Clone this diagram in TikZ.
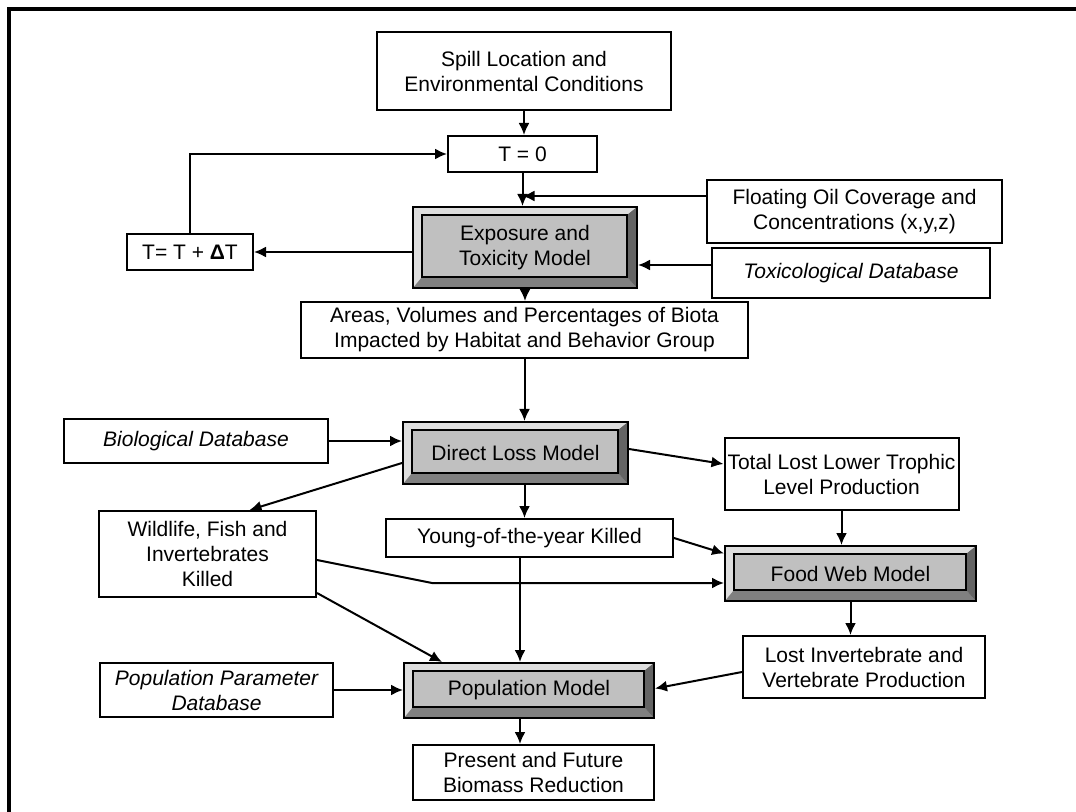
\documentclass[tikz,border=0pt]{standalone}
\usepackage{fontspec}
\setmainfont{Liberation Sans}
\usetikzlibrary{arrows.meta}
\definecolor{face}{RGB}{192,192,192}
\definecolor{bevlight}{RGB}{222,222,222}
\definecolor{bevdark}{RGB}{128,128,128}
\definecolor{bevdarker}{RGB}{100,100,100}
\newcommand{\boxfont}{\fontsize{10.5}{12.5}\selectfont}

\begin{document}
\begin{tikzpicture}[x=0.5pt,y=-0.5pt,
  box/.style={draw=black,line width=1pt,fill=white,align=center,inner sep=0pt,font=\boxfont},
  dbase/.style={box,font=\boxfont\itshape},
  model/.style={box,fill=face,path picture={
    \coordinate (nw) at (path picture bounding box.north west);
    \coordinate (ne) at (path picture bounding box.north east);
    \coordinate (sw) at (path picture bounding box.south west);
    \coordinate (se) at (path picture bounding box.south east);
    \coordinate (inw) at ([shift={(4.5pt,-4pt)}]nw);
    \coordinate (ine) at ([shift={(-5pt,-4pt)}]ne);
    \coordinate (isw) at ([shift={(4.5pt,5.5pt)}]sw);
    \coordinate (ise) at ([shift={(-5pt,5.5pt)}]se);
    \fill[bevlight] (nw) -- (ne) -- (ine) -- (inw) -- cycle;
    \fill[bevlight] (nw) -- (inw) -- (isw) -- (sw) -- cycle;
    \fill[bevdark] (sw) -- (isw) -- (ise) -- (se) -- cycle;
    \fill[bevdarker] (se) -- (ise) -- (ine) -- (ne) -- cycle;
    \draw[line width=1pt] (inw) rectangle (ise);
  }},
  arr/.style={-{Latex[length=6pt,width=5.5pt]},line width=1pt}]
\useasboundingbox (0,0) rectangle (1076,812);
\draw[line width=1.6pt] (9,812) -- (9,9) -- (1076,9);

\node[box,minimum width=147pt,minimum height=39pt] (spill) at (524,71) {Spill Location and\\Environmental Conditions};
\node[box,minimum width=74.5pt,minimum height=18pt] (tzero) at (522.5,154) {T = 0};
\node[box,minimum width=147.5pt,minimum height=31.5pt] (oil) at (854.5,211.5) {Floating Oil Coverage and\\Concentrations (x,y,z)};
\node[model,minimum width=112pt,minimum height=40.5pt] (expo) at (525,247.5) {Exposure and\\Toxicity Model};
\node[box,minimum width=63pt,minimum height=18pt] (tstep) at (190,252) {T= T + \textbf{Δ}T};
\node[dbase,minimum width=139pt,minimum height=25pt] (toxdb) at (851,273) {Toxicological Database};
\node[box,minimum width=223.5pt,minimum height=28pt] (areas) at (524.5,330) {Areas, Volumes and Percentages of Biota\\Impacted by Habitat and Behavior Group};
\node[dbase,minimum width=132pt,minimum height=22pt] (biodb) at (196,441) {Biological Database};
\node[model,minimum width=112.5pt,minimum height=31pt] (direct) at (515.5,453) {Direct Loss Model};
\node[box,minimum width=117pt,minimum height=36pt] (lower) at (841.5,474) {Total Lost Lower Trophic\\Level Production};
\node[box,minimum width=108.5pt,minimum height=43pt] (wild) at (207.5,554) {Wildlife, Fish and\\Invertebrates\\Killed};
\node[box,minimum width=143.5pt,minimum height=19pt] (young) at (529.5,538) {Young-of-the-year Killed};
\node[model,minimum width=125.5pt,minimum height=27.5pt] (food) at (850.5,573.5) {Food Web Model};
\node[box,minimum width=121pt,minimum height=31pt] (lostinv) at (864,667) {Lost Invertebrate and\\Vertebrate Production};
\node[dbase,minimum width=116.5pt,minimum height=27pt] (popdb) at (216.5,690) {Population Parameter\\Database};
\node[model,minimum width=125pt,minimum height=27.5pt] (pop) at (529,690.5) {Population Model};
\node[box,minimum width=120.5pt,minimum height=27.5pt] (present) at (533.5,772.5) {Present and Future\\Biomass Reduction};

\coordinate (join) at (522.5,196);
\coordinate (bend) at (432,583);
\coordinate (mid) at (520,600);
\draw[arr] (spill.south) -- (spill.south |- tzero.north);
\draw[arr] (tzero.south) -- (tzero.south |- expo.north);
\draw[arr] (oil.west |- join) -- (join);
\draw[arr] (tstep.east -| expo.west) -- (tstep.east);
\draw[arr] (tstep.north) |- (tzero.west);
\draw[arr] ([yshift=4pt]toxdb.west) -- ([yshift=4pt]toxdb.west -| expo.east);
\draw[arr] (expo.south) -- (expo.south |- areas.north);
\draw[arr] (areas.south) -- (areas.south |- direct.north);
\draw[arr] (biodb.east) -- (biodb.east -| direct.west);
\draw[arr] ([yshift=-5pt]direct.west) -- ([xshift=21pt]wild.north);
\draw[arr] ([yshift=2pt]direct.east) -- ([yshift=5pt]lower.west);
\draw[arr] (areas.south |- direct.south) -- (areas.south |- young.north);
\draw[arr] (lower.south) -- (lower.south |- food.north);
\draw[arr] (food.south) -- (food.south |- lostinv.north);
\draw[arr] (young.east) -- ([yshift=10pt]food.west);
\draw[arr] ([yshift=-3pt]wild.east) -- (bend) -- (bend -| food.west);
\draw[arr] ([yshift=2.5pt]wild.south east) -- ([xshift=-43.5pt]pop.north);
\draw[arr] (young.south -| mid) -- (pop.north -| mid);
\draw[arr] (popdb.east) -- (popdb.east -| pop.west);
\draw[arr] ([yshift=-2.5pt]lostinv.west) -- ([yshift=1pt]pop.east);
\draw[arr] (pop.south -| mid) -- (present.north -| mid);
\end{tikzpicture}
\end{document}
